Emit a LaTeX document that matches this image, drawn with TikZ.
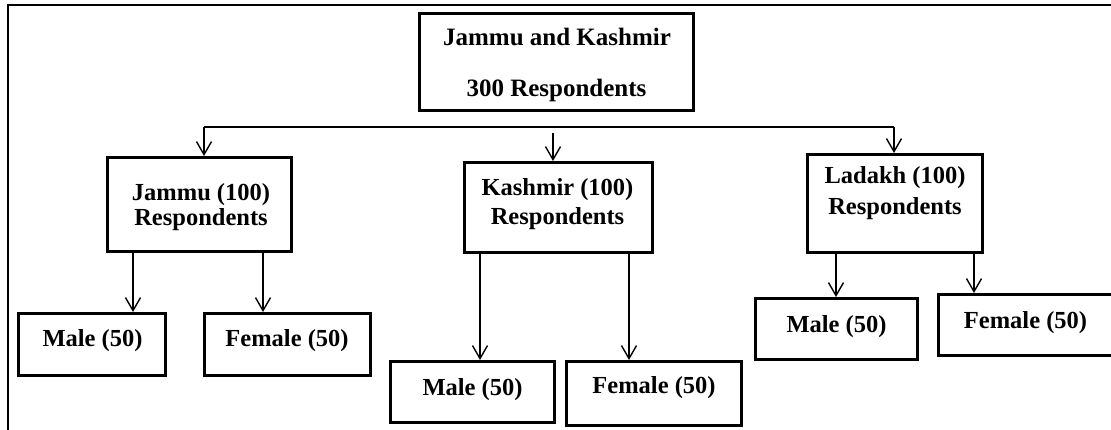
\documentclass[tikz,border=0pt]{standalone}
\usepackage{fontspec}
\setmainfont{Liberation Serif}
\usetikzlibrary{arrows.meta,calc}
\begin{document}
\begin{tikzpicture}[x=1pt,y=-1pt,
  box/.style={draw, line width=3pt, inner sep=0pt},
  lbl/.style={anchor=base, inner sep=0pt, font=\fontsize{24.5}{29}\selectfont\bfseries},
  biglbl/.style={lbl, font=\fontsize{25}{30}\selectfont\bfseries},
  conn/.style={line width=1.4pt},
  arr/.style={line width=1.4pt, -{Straight Barb[length=13pt,width=15pt,line width=1.4pt]}},
  frame/.style={line width=2pt}]
\useasboundingbox (0,0) rectangle (1111,430);
% outer frame (top and left only)
\coordinate (fTL) at (8,5);
\coordinate (fTR) at (1112,5);
\coordinate (fBL) at (8,431);
\draw[frame] (fTR) -- (fTL) -- (fBL);
% boxes
\node[box, minimum width=274pt, minimum height=97pt] (top) at (556.5,62) {};
\node[box, minimum width=184pt, minimum height=94pt] (jam) at (199.5,204.5) {};
\node[box, minimum width=188pt, minimum height=90pt] (kas) at (558.5,207.5) {};
\node[box, minimum width=175pt, minimum height=98pt] (lad) at (895,203.5) {};
\node[box, minimum width=147pt, minimum height=62pt] (jm) at (92,344.5) {};
\node[box, minimum width=166pt, minimum height=62pt] (jf) at (287.5,344.5) {};
\node[box, minimum width=164pt, minimum height=61pt] (km) at (472.5,392) {};
\node[box, minimum width=175pt, minimum height=64pt] (kf) at (654,393.5) {};
\node[box, minimum width=162pt, minimum height=61pt] (lm) at (836.5,329) {};
\node[box, minimum width=176pt, minimum height=61pt] (lf) at (1026.5,325) {};
% texts
\node[biglbl] (t1) at (557,46) {Jammu and Kashmir};
\node[biglbl] (t2) at (556.5,97) {300 Respondents};
\node[lbl] (t3) at (201,201) {Jammu (100)};
\node[lbl] (t4) at (201,226) {Respondents};
\node[lbl] (t5) at (557.5,196) {Kashmir (100)};
\node[lbl] (t6) at (557.5,225) {Respondents};
\node[lbl] (t7) at (895,184) {Ladakh (100)};
\node[lbl] (t8) at (895,215) {Respondents};
\node[lbl] (t9) at (92.5,346) {Male (50)};
\node[lbl] (t10) at (287,346) {Female (50)};
\node[lbl] (t11) at (472.5,395) {Male (50)};
\node[lbl] (t12) at (654,393) {Female (50)};
\node[lbl] (t13) at (836.5,332) {Male (50)};
\node[lbl] (t14) at (1025.5,328) {Female (50)};
% bus and connectors
\coordinate (busL) at (204,127);
\coordinate (busR) at (894,127);
\coordinate (kt) at (553,133);
\draw[conn] (busL) -- (busR);
\draw[arr] (busL) -- (busL |- jam.north);
\draw[arr] (busR) -- (busR |- lad.north);
\draw[arr] (kt) -- (kt |- kas.north);
\draw[arr] (133,0 |- jam.south) -- (133,0 |- jm.north);
\draw[arr] (263,0 |- jam.south) -- (263,0 |- jf.north);
\draw[arr] (480,0 |- kas.south) -- (480,0 |- km.north);
\draw[arr] (629,0 |- kas.south) -- (629,0 |- kf.north);
\draw[arr] (836,0 |- lad.south) -- (836,0 |- lm.north);
\draw[arr] (974,251) -- (974,0 |- lf.north);
\end{tikzpicture}
\end{document}
